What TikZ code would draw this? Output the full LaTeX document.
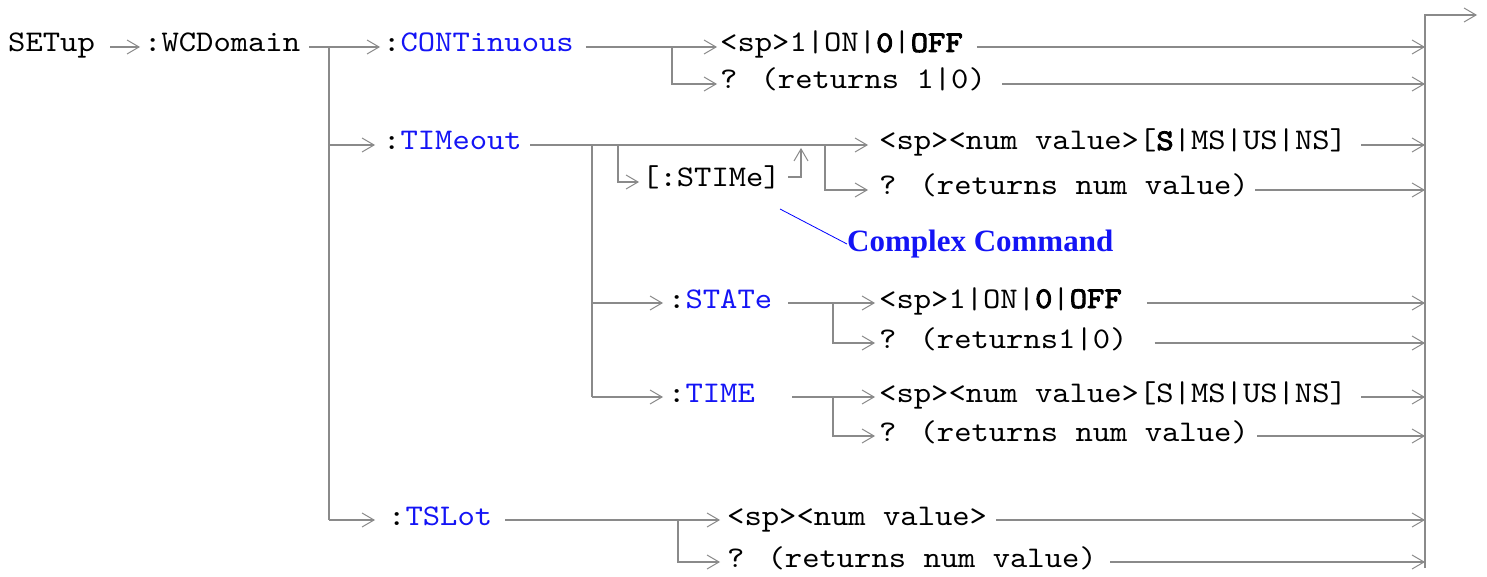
\documentclass[tikz,border=0pt]{standalone}
\usepackage{fontspec}
\newfontfamily\monofont[Extension=.otf, FakeStretch=1.1,
  BoldFont=lmmono10-regular, BoldFeatures={FakeBold=3}]{lmmono10-regular}
\newfontfamily\notefont{Liberation Serif}
\usetikzlibrary{arrows.meta}
\definecolor{railgray}{RGB}{138,138,138}
\definecolor{cmdblue}{RGB}{20,20,245}
\tikzset{
  rail/.style={draw=railgray, line width=1.6pt},
  arr/.style={rail, -{Straight Barb[length=12pt,width=14pt,line width=1pt]}},
  kw/.style={inner sep=0pt, anchor=west, text height=16pt, text depth=6pt,
    font=\monofont\fontsize{30pt}{31pt}\selectfont},
  note/.style={inner sep=0pt, anchor=west, text=cmdblue,
    font=\notefont\bfseries\fontsize{31pt}{32pt}\selectfont},
}
\newcommand{\blueword}[1]{:\textcolor{cmdblue}{#1}}
\begin{document}
\begin{tikzpicture}[x=1pt,y=-1pt]
\useasboundingbox (0,0) rectangle (1487,577);
\node[kw] (setup) at (8,47) {SETup};
\node[kw] (wcd) at (144,47) {:WCDomain};
\node[kw] (cont) at (383,47) {\blueword{CONTinuous}};
\node[kw] (c1) at (720,47) {<sp>1|ON|\textbf{0}|\textbf{OFF}};
\node[kw] (c2) at (720,84) {? (returns 1|0)};
\node[kw] (tim) at (383,145) {\blueword{TIMeout}};
\node[kw] (t1) at (879,145) {<sp><num value>[\textbf{S}|MS|US|NS]};
\node[kw] (stime) at (642,182) {[:STIMe]};
\node[kw] (t2) at (879,190) {? (returns num value)};
\node[note] (cc) at (847,244) {Complex Command};
\node[kw] (stat) at (668,303) {\blueword{STATe}};
\node[kw] (s1) at (879,303) {<sp>1|ON|\textbf{0}|\textbf{OFF}};
\node[kw] (s2) at (879,343) {? (returns1|0)};
\node[kw] (time) at (668,397) {\blueword{TIME}};
\node[kw] (m1) at (879,397) {<sp><num value>[S|MS|US|NS]};
\node[kw] (m2) at (879,436) {? (returns num value)};
\node[kw] (tsl) at (388,520) {\blueword{TSLot}};
\node[kw] (n1) at (727,520) {<sp><num value>};
\node[kw] (n2) at (727,562) {? (returns num value)};
\coordinate (bartop) at (1425,15);
\coordinate (barbot) at (1425,568);
\coordinate (exit) at (1477,15);
\coordinate (jw) at (329,47);
\coordinate (jc) at (672,47);
\coordinate (jt) at (592,145);
\coordinate (js) at (618,145);
\coordinate (jback) at (801,145);
\coordinate (jq) at (825,145);
\coordinate (jst) at (833,303);
\coordinate (jtm) at (833,397);
\coordinate (jn) at (678,520);
\coordinate (ccfoot) at (780,209);
\draw[arr] (barbot) -- (bartop) -- (exit);
\draw[arr] ([xshift=15pt]setup.east) -- ([xshift=-4pt]wcd.west);
\draw[arr] ([xshift=9pt]wcd.east) -- ([xshift=-3pt]cont.west);
\draw[rail] (jw) -- (jw |- tsl.west);
\draw[arr] (jw |- tim.west) -- ([xshift=-8pt]tim.west);
\draw[arr] (jw |- tsl.west) -- ([xshift=-13pt]tsl.west);
\draw[arr] ([xshift=12pt]cont.east) -- ([xshift=-3pt]c1.west);
\draw[arr] (jc) |- ([xshift=-3pt]c2.west);
\draw[arr] ([xshift=14pt]c1.east) -- (c1.east -| bartop);
\draw[arr] ([xshift=16pt]c2.east) -- (c2.east -| bartop);
\draw[arr] ([xshift=8pt]tim.east) -- ([xshift=-11pt]t1.west);
\draw[arr] (js) |- ([xshift=-3pt]stime.west);
\draw[arr] ([xshift=7pt,yshift=5pt]stime.east) -| ([yshift=-3pt]jback);
\draw[arr] (jq) |- ([xshift=-11pt]t2.west);
\draw[arr] ([xshift=14pt]t1.east) -- (t1.east -| bartop);
\draw[arr] ([xshift=6pt]t2.east) -- (t2.east -| bartop);
\draw[blue, line width=0.8pt] (ccfoot) -- (cc.west);
\draw[rail] (jt) -- (jt |- time.west);
\draw[arr] (jt |- stat.west) -- ([xshift=-5pt]stat.west);
\draw[arr] (jt |- time.west) -- ([xshift=-5pt]time.west);
\draw[arr] ([xshift=16pt]stat.east) -- ([xshift=-4pt]s1.west);
\draw[arr] (jst) |- ([xshift=-4pt]s2.west);
\draw[arr] ([xshift=25pt]s1.east) -- (s1.east -| bartop);
\draw[arr] ([xshift=27pt]s2.east) -- (s2.east -| bartop);
\draw[arr] ([xshift=37pt]time.east) -- ([xshift=-4pt]m1.west);
\draw[arr] (jtm) |- ([xshift=-4pt]m2.west);
\draw[arr] ([xshift=14pt]m1.east) -- (m1.east -| bartop);
\draw[arr] ([xshift=8pt]m2.east) -- (m2.east -| bartop);
\draw[arr] ([xshift=13pt]tsl.east) -- ([xshift=-7pt]n1.west);
\draw[arr] (jn) |- ([xshift=-7pt]n2.west);
\draw[arr] ([xshift=9pt]n1.east) -- (n1.east -| bartop);
\draw[arr] ([xshift=13pt]n2.east) -- (n2.east -| bartop);
\end{tikzpicture}
\end{document}
